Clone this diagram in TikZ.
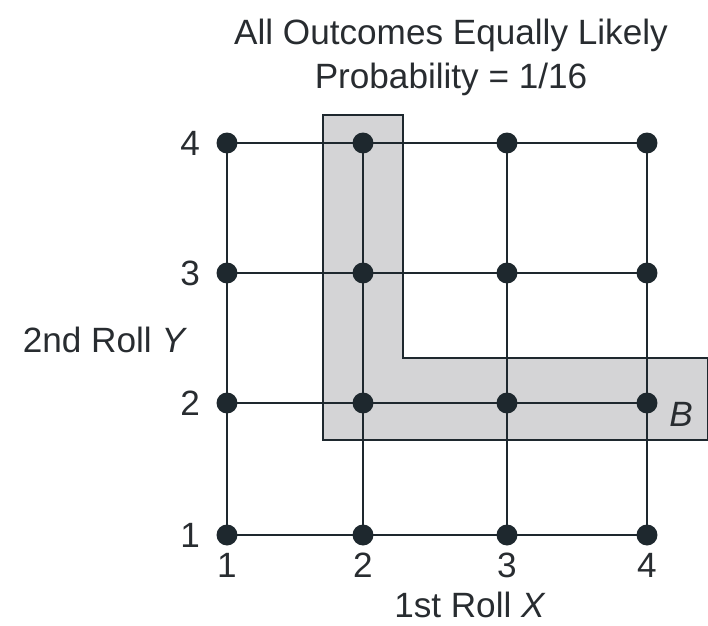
\documentclass[tikz,border=0pt]{standalone}
\usepackage{fontspec}
\setmainfont{Liberation Sans}
\usetikzlibrary{positioning}
\definecolor{gridink}{RGB}{30,40,46}
\definecolor{textink}{RGB}{40,44,48}
\definecolor{shadeB}{RGB}{212,212,214}

\begin{document}
\begin{tikzpicture}[x=0.02cm, y=-0.02cm,
  dot/.style={circle, fill=gridink, inner sep=0pt, minimum size=0.42cm},
  lbl/.style={font=\fontsize{20}{25}\selectfont, text=textink},
  gridline/.style={line width=1.5pt, gridink}]
  \useasboundingbox (0,0) rectangle (708,626);
  % event B
  \draw[line width=1.5pt, gridink, fill=shadeB] (323,115) -- (403,115) -- (403,358)
    -- (708,358) -- (708,440) -- (323,440) -- cycle;
  % outcome grid
  \foreach \i/\x in {1/227,2/363,3/507,4/647}
    \foreach \j/\y in {1/535,2/403,3/273,4/143}
      \coordinate (p\i\j) at (\x,\y);
  \foreach \n in {1,...,4} {
    \draw[gridline] (p\n1) -- (p\n4);
    \draw[gridline] (p1\n) -- (p4\n);
  }
  \foreach \i in {1,...,4}
    \foreach \j in {1,...,4}
      \node[dot] (d\i\j) at (p\i\j) {};
  % tick labels
  \foreach \n in {1,...,4} {
    \node[lbl, left=0.2cm of d1\n] (ylab\n) {\n};
    \node[lbl, below=0.02cm of d\n1] (xlab\n) {\n};
  }
  \node[lbl, inner sep=1pt] (xaxis) at (470,605) {1st Roll \textit{X}};
  \node[lbl] (yaxis) at (105,340) {2nd Roll \textit{Y}};
  \node[lbl] (evB) at (681,414) {\textit{B}};
  \node[lbl, align=center] (title) at (451,57) {All Outcomes Equally Likely\\Probability = 1/16};
\end{tikzpicture}
\end{document}
